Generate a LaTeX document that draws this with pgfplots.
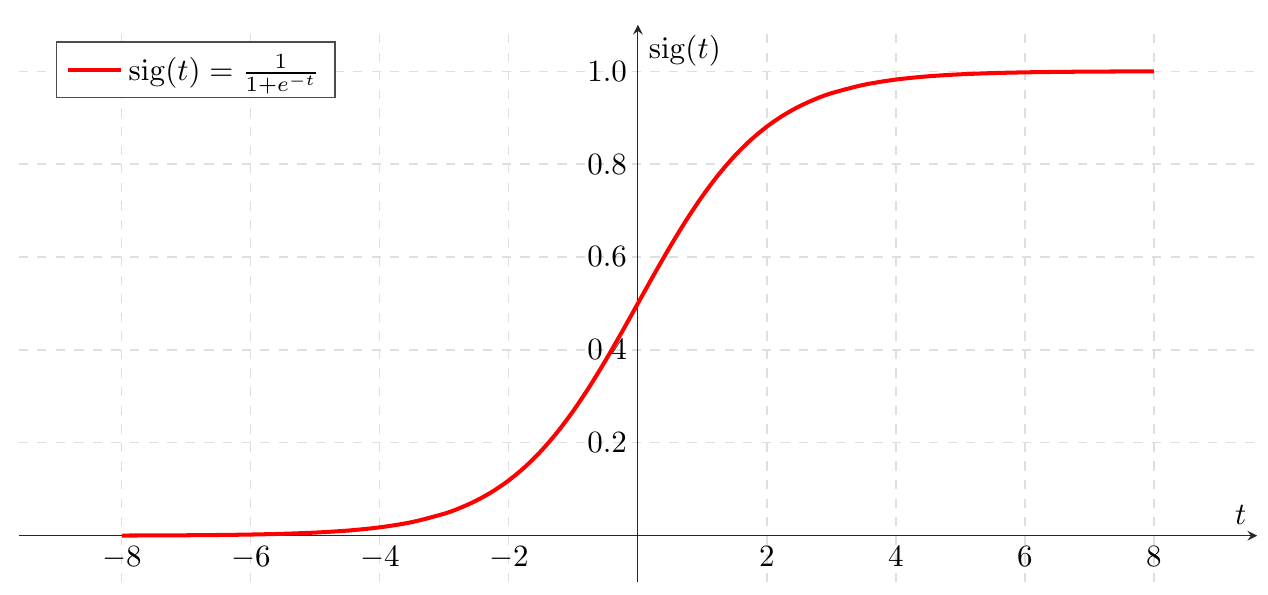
\documentclass[border=0pt]{standalone}
\usepackage{pgfplots}
\pgfplotsset{compat=1.18}

\pgfplotstableread{
t sig
-8 0.000335
-7.5 0.000553
-7 0.000911
-6.5 0.001501
-6 0.002473
-5.5 0.004070
-5 0.006693
-4.5 0.010987
-4 0.017986
-3.5 0.029312
-3 0.047426
-2.75 0.060087
-2.5 0.075858
-2.25 0.095349
-2 0.119203
-1.75 0.148047
-1.5 0.182426
-1.25 0.222700
-1 0.268941
-0.75 0.320821
-0.5 0.377541
-0.25 0.437823
0 0.5
0.25 0.562177
0.5 0.622459
0.75 0.679179
1 0.731059
1.25 0.777300
1.5 0.817574
1.75 0.851953
2 0.880797
2.25 0.904651
2.5 0.924142
2.75 0.939913
3 0.952574
3.5 0.970688
4 0.982014
4.5 0.989013
5 0.993307
5.5 0.995930
6 0.997527
6.5 0.998499
7 0.999089
7.5 0.999447
8 0.999665
}\sigdata

\begin{document}
\begin{tikzpicture}
  \begin{axis}[
      scale only axis,
      width=400pt, height=180pt,
      axis lines=middle,
      axis line style={black!85},
      xmin=-9.6, xmax=9.6,
      ymin=-0.1, ymax=1.1,
      xtick={-8,-6,-4,-2,2,4,6,8},
      ytick={0.2,0.4,0.6,0.8,1.0},
      yticklabel style={/pgf/number format/fixed, /pgf/number format/fixed zerofill, /pgf/number format/precision=1},
      major tick length=0pt,
      grid=major,
      grid style={dashed, gray!25},
      xlabel={$t$},
      ylabel={$\mathrm{sig}(t)$},
      xlabel style={at={(ticklabel* cs:1)}, anchor=south east},
      ylabel style={at={(ticklabel* cs:1)}, anchor=north west},
      legend pos=north west,
      legend style={draw=black!70, fill=white},
    ]
    \addplot[red, line width=1.3pt, smooth] table[x=t, y=sig] {\sigdata};
    \addlegendentry{$\mathrm{sig}(t) = \frac{1}{1+e^{-t}}$}
  \end{axis}
  % margins as in the reference
  \path (current axis.north west) ++(-6pt,8pt);
  \path (current axis.south east) ++(3.5pt,-4pt);
\end{tikzpicture}
\end{document}
